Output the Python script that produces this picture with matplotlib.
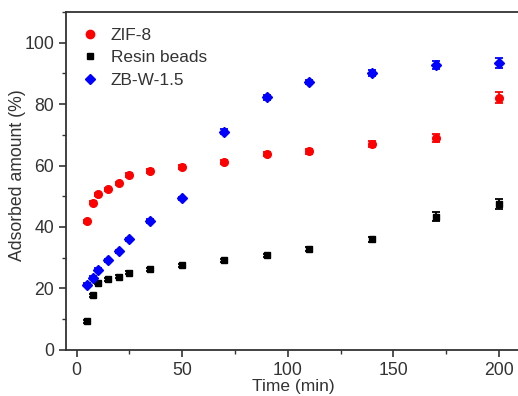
import matplotlib
matplotlib.use("Agg")
import matplotlib.pyplot as plt
from matplotlib.lines import Line2D
from matplotlib.ticker import MultipleLocator

# adsorption time points (min)
time_min = [5, 8, 10, 15, 20, 25, 35, 50, 70, 90, 110, 140, 170, 200]

# adsorbed amount (%)
zif8 = [41.8, 47.9, 50.6, 52.3, 54.2, 56.9, 58.2, 59.6, 61.2, 63.7, 64.7, 67.1, 68.9, 82.1]
zif8_err = [0.5, 0.5, 0.5, 0.5, 0.5, 0.6, 0.6, 0.6, 0.7, 0.7, 0.8, 1.0, 1.2, 1.8]

resin = [9.2, 17.7, 21.8, 22.9, 23.8, 25.1, 26.2, 27.5, 29.2, 30.8, 32.9, 36.0, 43.3, 47.5]
resin_err = [0.5, 0.5, 0.5, 0.5, 0.5, 0.5, 0.5, 0.5, 0.5, 0.5, 0.6, 0.8, 1.5, 1.6]

zbw = [21.1, 23.5, 26.0, 29.2, 32.1, 36.0, 41.9, 49.3, 71.0, 82.2, 87.2, 90.2, 92.6, 93.3]
zbw_err = [0.5, 0.5, 0.5, 0.5, 0.5, 0.5, 0.6, 0.6, 0.8, 0.8, 0.8, 0.9, 1.3, 1.6]

labels = ['ZIF-8', 'Resin beads', 'ZB-W-1.5']

plt.rcParams['font.family'] = ['Liberation Sans', 'DejaVu Sans']

fig = plt.figure(figsize=(5.18, 3.96), dpi=100)
# the right end of the frame sits just past the picture edge, as in the source
ax = fig.add_axes([0.1274, 0.1169, 0.8764, 0.8528])

common = dict(linestyle='none', capsize=3.2, elinewidth=1.3, capthick=1.3)
ax.errorbar(time_min, zif8, yerr=zif8_err, marker='o', color='#ff0000',
            markersize=5.5, **common)
ax.errorbar(time_min, resin, yerr=resin_err, marker='s', color='black',
            markersize=5, **common)
ax.errorbar(time_min, zbw, yerr=zbw_err, marker='D', color='#0000ff',
            markersize=5, **common)

ax.set_xlim(-5, 209.9)
ax.set_ylim(0, 110)
ax.set_xticks([0, 50, 100, 150, 200])
ax.set_yticks([0, 20, 40, 60, 80, 100])
ax.xaxis.set_minor_locator(MultipleLocator(25))
ax.yaxis.set_minor_locator(MultipleLocator(10))

for s in ax.spines.values():
    s.set_color('#333333')
    s.set_linewidth(1.3)
ax.spines['right'].set_visible(False)

ax.tick_params(which='major', direction='out', length=5, width=1.2,
               labelsize=12.7, colors='#333333', labelcolor='#333333')
ax.tick_params(which='minor', direction='out', length=3, width=1.0, colors='#333333')
ax.tick_params(top=False, right=False, which='both')

ax.set_xlabel('Time (min)', fontsize=12.5, color='#333333', labelpad=0)
ax.set_ylabel('Adsorbed amount (%)', fontsize=12.7, color='#333333')
ax.yaxis.set_label_coords(-0.088, 0.517)

handles = [
    Line2D([], [], linestyle='none', marker='o', color='#ff0000', markersize=6),
    Line2D([], [], linestyle='none', marker='s', color='black', markersize=4.7),
    Line2D([], [], linestyle='none', marker='D', color='#0000ff', markersize=5),
]
leg = ax.legend(handles, labels, loc='upper left', frameon=False, fontsize=12.4,
                handletextpad=0.7, borderaxespad=0.5, labelspacing=0.45,
                handlelength=1.0)
for t in leg.get_texts():
    t.set_color('#333333')

fig.savefig('out.png', dpi=100)
